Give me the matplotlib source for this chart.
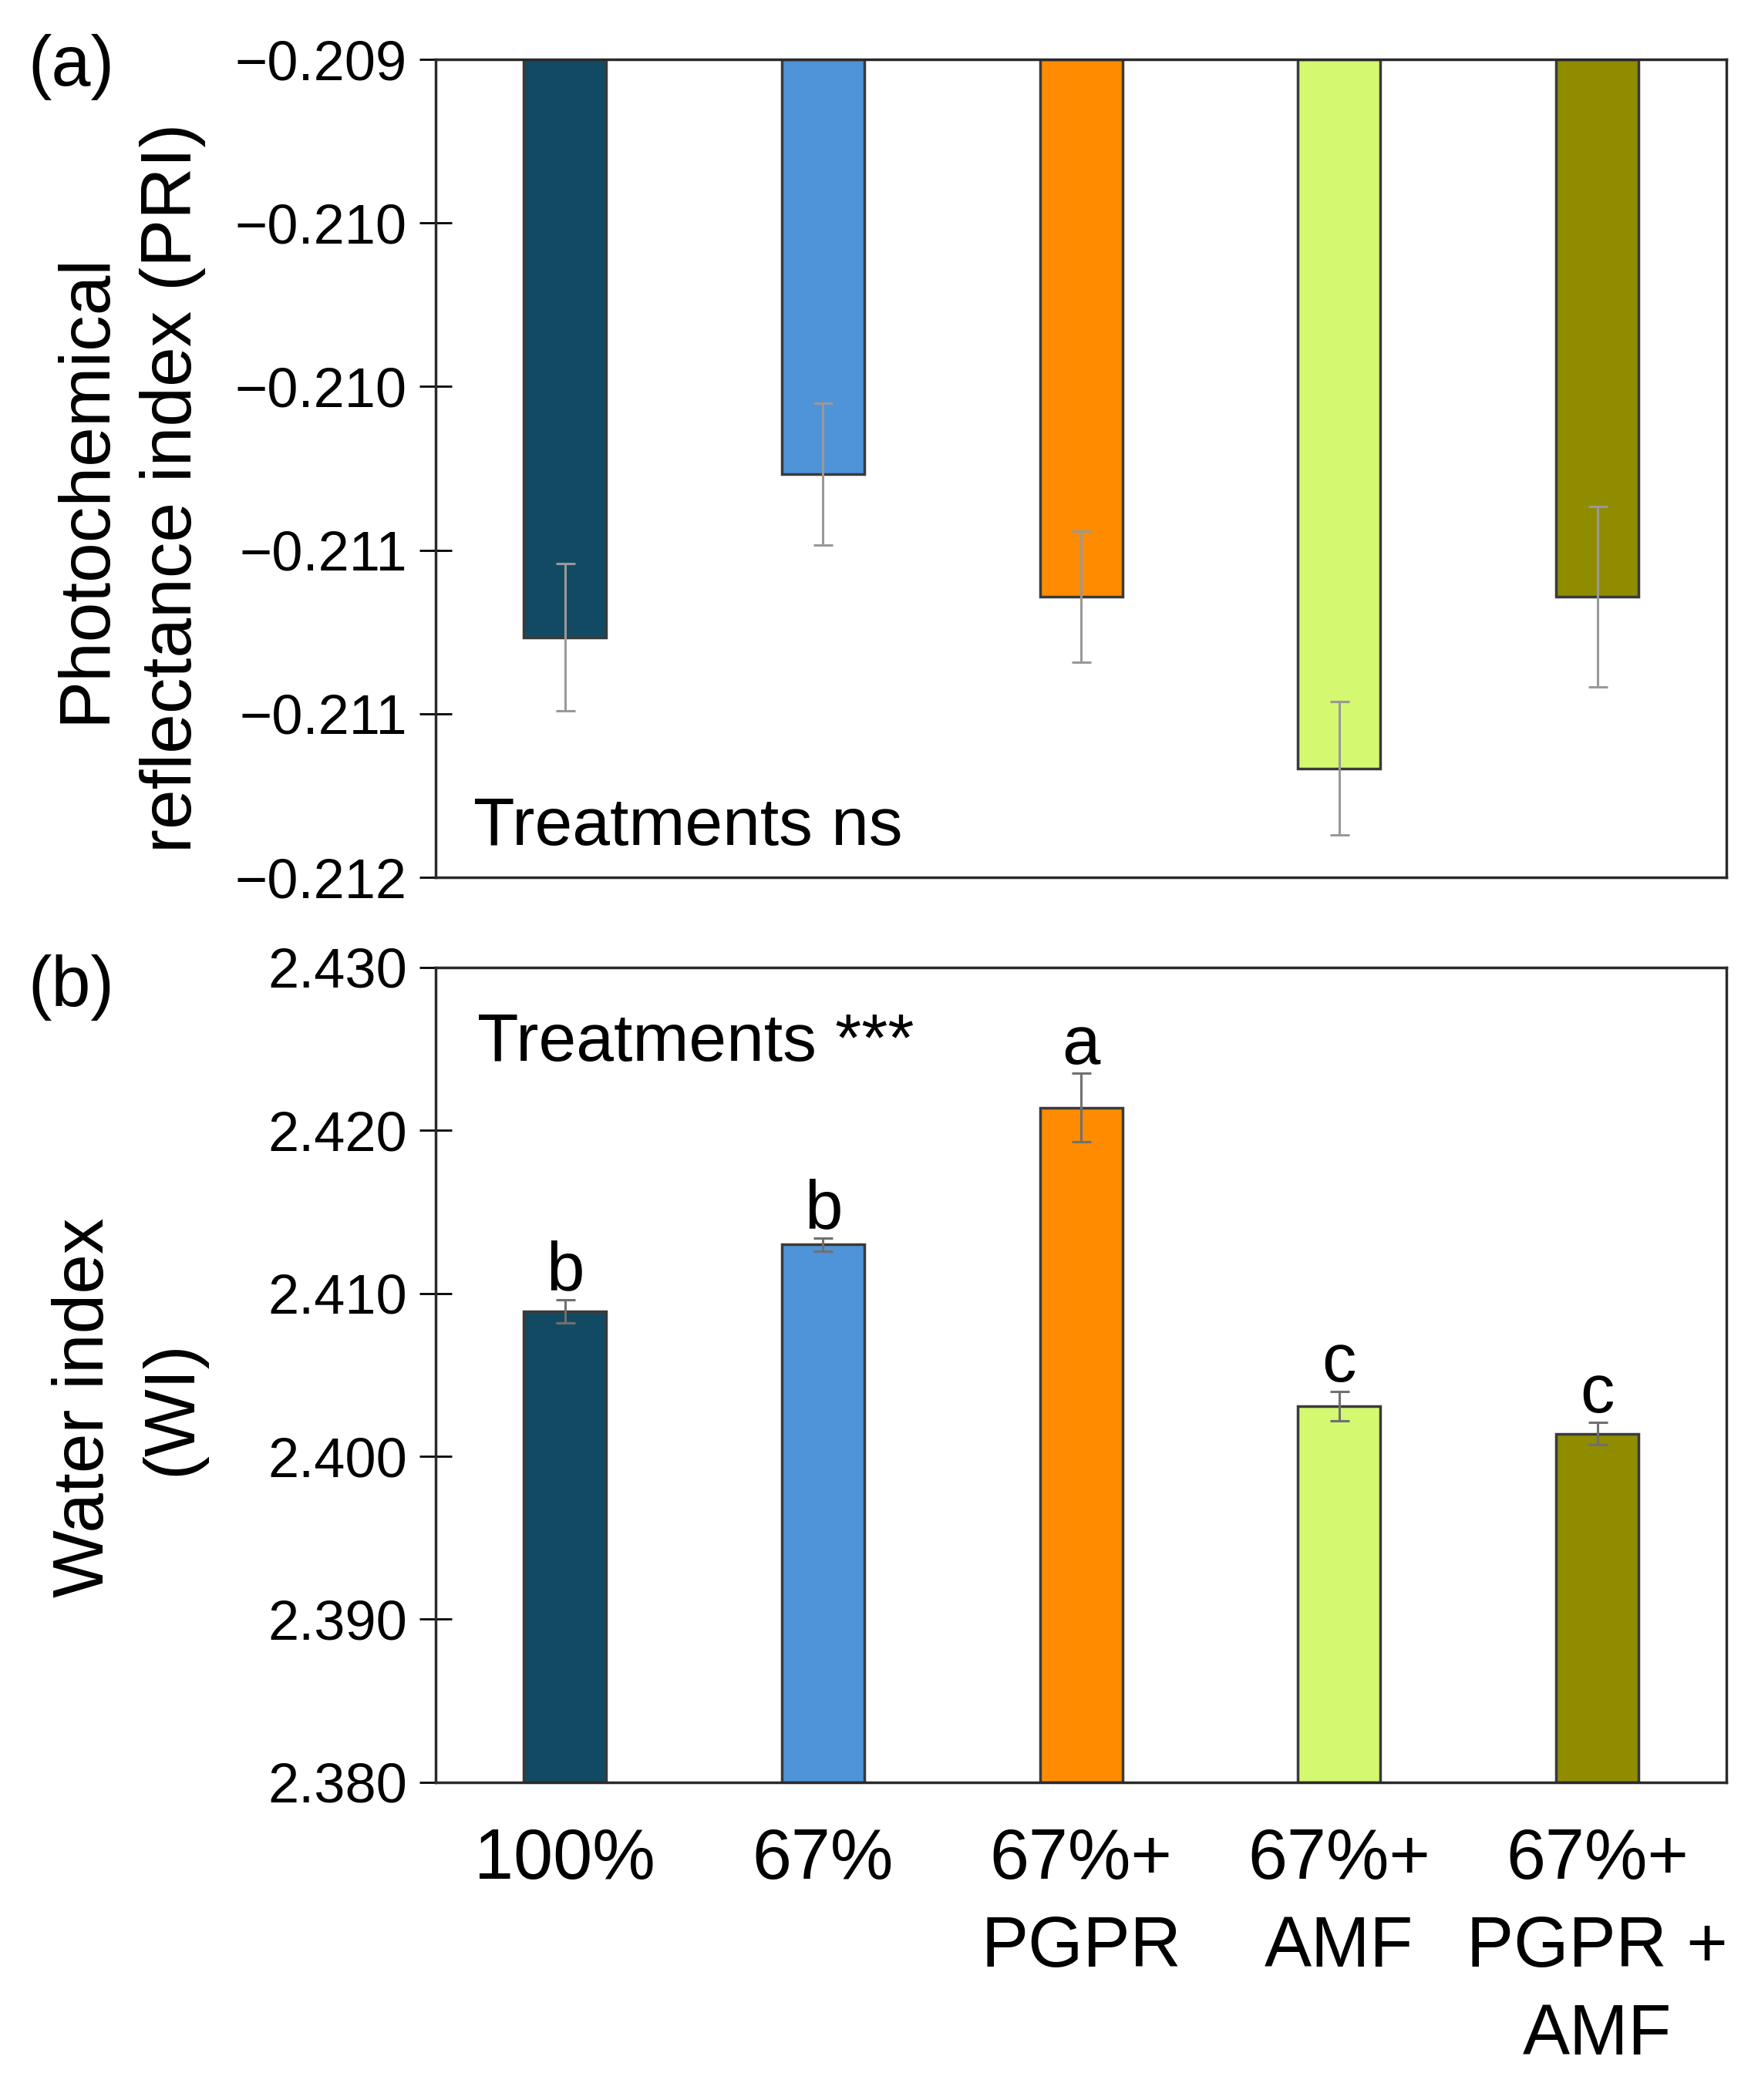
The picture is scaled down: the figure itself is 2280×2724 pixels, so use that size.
import numpy as np
import matplotlib
matplotlib.use("Agg")
import matplotlib.pyplot as plt
from matplotlib.ticker import FixedLocator, FuncFormatter

plt.rcParams['font.family'] = ['Liberation Sans', 'DejaVu Sans']

categories = ["100%", "67%", "67%+\nPGPR", "67%+\nAMF", "67%+\nPGPR +\nAMF"]
colors = ["#134A63", "#4F93D8", "#FF8C00", "#D4F870", "#8F8C00"]

pri_mean = [-0.21112, -0.21052, -0.21097, -0.21160, -0.21097]
pri_err = [0.00027, 0.00026, 0.00024, 0.000245, 0.00033]
pri_ticks = [-0.2120, -0.2114, -0.2108, -0.2102, -0.2096, -0.2090]

wi_mean = [2.4089, 2.4130, 2.4214, 2.4031, 2.4014]
wi_err = [0.0007, 0.0004, 0.0021, 0.0009, 0.0007]
wi_letters = ["b", "b", "a", "c", "c"]
wi_ticks = [2.380, 2.390, 2.400, 2.410, 2.420, 2.430]

fig = plt.figure(figsize=(22.8, 27.24), dpi=100)
ax1 = fig.add_axes([0.248, 0.5822, 0.734, 0.3895])
ax2 = fig.add_axes([0.248, 0.1513, 0.734, 0.3880])

x = np.arange(len(categories))
bw = 0.32

def style(ax):
    for s in ax.spines.values():
        s.set_linewidth(2.5)
        s.set_color("#2a2a2a")
    ax.tick_params(axis='y', direction='inout', length=30, width=2, labelsize=52, pad=12)
    ax.tick_params(axis='x', length=0)
    ax.set_xlim(-0.5, len(categories) - 0.5)

# Panel (a)
top = pri_ticks[-1]
ax1.bar(x, np.array(pri_mean) - top, bottom=top, width=bw, color=colors,
        edgecolor="#3a3a3a", linewidth=2.5, zorder=2)
ax1.errorbar(x, pri_mean, yerr=pri_err, fmt='none', ecolor="#999999",
             elinewidth=2.2, capsize=9, capthick=2.2, zorder=3)
ax1.set_ylim(pri_ticks[0], pri_ticks[-1])
ax1.yaxis.set_major_locator(FixedLocator(pri_ticks))
ax1.yaxis.set_major_formatter(FuncFormatter(lambda v, p: ("%.3f" % v).replace("-", "\u2212")))
style(ax1)
ax1.set_xticks([])
ax1.text(0.029, 0.04, "Treatments ns", transform=ax1.transAxes, fontsize=63,
         ha='left', va='baseline')

# Panel (b)
ax2.bar(x, np.array(wi_mean) - wi_ticks[0], bottom=wi_ticks[0], width=bw, color=colors,
        edgecolor="#3a3a3a", linewidth=2.5, zorder=2)
ax2.errorbar(x, wi_mean, yerr=wi_err, fmt='none', ecolor="#707070",
             elinewidth=2.2, capsize=9, capthick=2.2, zorder=3)
ax2.set_ylim(wi_ticks[0], wi_ticks[-1])
ax2.yaxis.set_major_locator(FixedLocator(wi_ticks))
ax2.yaxis.set_major_formatter(FuncFormatter(lambda v, p: "%.3f" % v))
style(ax2)
ax2.set_xticks(x)
ax2.set_xticklabels(categories, fontsize=66, linespacing=1.42)
ax2.tick_params(axis='x', pad=42)
for xi, m, e, L in zip(x, wi_mean, wi_err, wi_letters):
    ax2.annotate(L, (xi, m + e), xytext=(0, 9), textcoords='offset points',
                 ha='center', va='baseline', fontsize=64)
ax2.text(0.032, 0.885, "Treatments ***", transform=ax2.transAxes, fontsize=63,
         ha='left', va='baseline')

# Labels
fig.text(0.0735, 0.7676, "Photochemical\nreflectance index (PRI)", rotation=90,
         ha='center', va='center', multialignment='center', fontsize=67, linespacing=1.4)
fig.text(0.0730, 0.3297, "Water index\n(WI)", rotation=90,
         ha='center', va='center', multialignment='center', fontsize=67, linespacing=1.4)
fig.text(0.016, 0.968, "(a)", ha='left', va='center', fontsize=66)
fig.text(0.016, 0.5297, "(b)", ha='left', va='center', fontsize=66)

fig.savefig("out.png", dpi=100)
